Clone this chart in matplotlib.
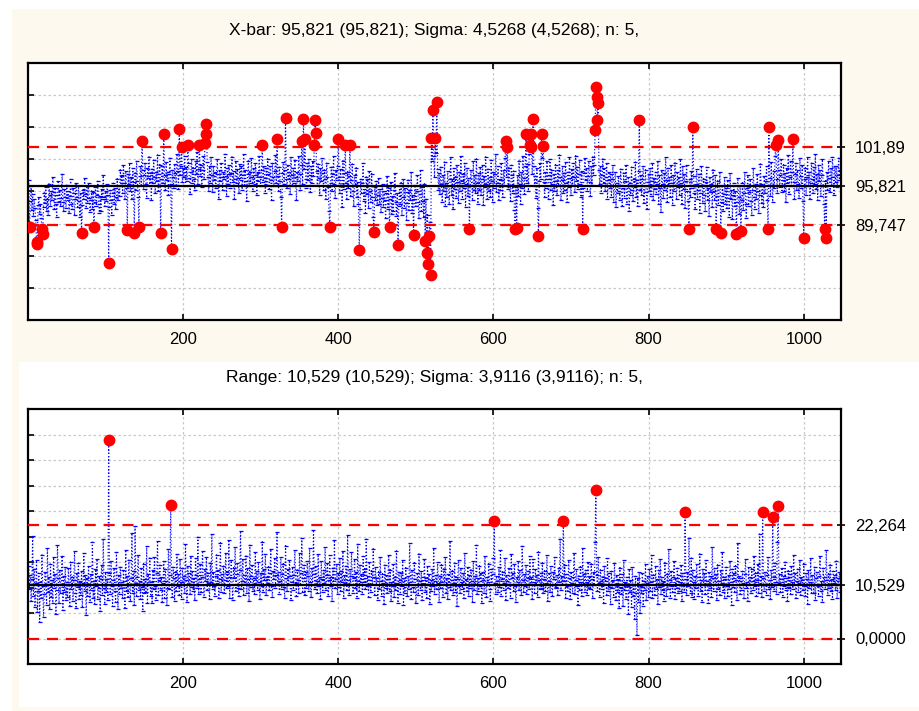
import numpy as np
import matplotlib
matplotlib.use('Agg')
import matplotlib.pyplot as plt
from matplotlib.patches import Rectangle

plt.rcParams['font.family'] = ['Liberation Sans', 'DejaVu Sans']

# ---------------- data ----------------
xbar = [
    96.8, 89.4, 93.5, 95.9, 92.1, 94.6, 91.2, 93.8, 92.4, 90.6,
    86.8, 87.1, 92.9, 94.1, 91.5, 93.0, 90.8, 89.1, 88.4, 92.6,
    94.8, 93.2, 95.7, 92.0, 93.9, 91.4, 96.2, 94.4, 92.8, 95.1,
    93.6, 97.3, 94.9, 92.3, 95.6, 93.1, 91.0, 94.5, 96.7, 93.4,
    95.2, 92.7, 94.0, 97.8, 93.3, 91.9, 95.4, 94.2, 92.5, 96.0,
    93.7, 95.0, 91.6, 94.3, 96.9, 93.0, 92.2, 95.5, 94.7, 91.3,
    93.9, 96.4, 94.1, 92.6, 95.8, 93.5, 91.1, 94.8, 88.5, 92.9,
    95.3, 93.8, 97.1, 94.6, 92.4, 95.9, 93.2, 96.3, 94.0, 91.8,
    93.6, 95.1, 92.3, 94.9, 89.5, 93.4, 95.7, 92.8, 94.5, 96.6,
    93.1, 91.7, 94.3, 92.0, 95.4, 93.9, 97.5, 94.2, 92.7, 95.0,
    93.5, 96.1, 94.4, 83.9, 92.6, 95.2, 93.7, 91.4, 94.8, 96.3,
    93.0, 95.5, 92.2, 94.1, 97.0, 93.6, 95.8, 94.3, 98.4, 96.0,
    97.5, 94.7, 99.1, 96.4, 93.8, 98.2, 95.6, 89.0, 97.7, 96.1,
    99.4, 95.0, 97.2, 93.9, 98.6, 96.5, 88.5, 97.9, 95.3, 99.8,
    96.7, 94.2, 89.5, 97.4, 99.0, 96.0, 102.8, 98.3, 95.4, 97.6,
    99.5, 96.2, 94.0, 98.7, 97.1, 100.4, 95.8, 97.9, 93.6, 98.5,
    96.4, 99.9, 97.3, 94.8, 98.1, 96.6, 100.7, 95.1, 97.8, 99.2,
    88.5, 97.0, 98.9, 96.3, 103.9, 97.5, 95.2, 99.6, 96.8, 98.0,
    94.5, 97.7, 100.2, 96.1, 86.0, 98.4, 97.2, 95.6, 99.3, 97.9,
    96.0, 100.9, 98.2, 95.4, 104.7, 97.6, 99.0, 102.0, 96.5, 98.6,
    97.3, 100.5, 95.9, 98.8, 96.7, 102.3, 99.4, 97.1, 94.6, 98.0,
    100.1, 96.4, 98.7, 97.0, 95.3, 99.7, 97.8, 101.2, 96.2, 98.5,
    102.3, 97.4, 99.2, 95.7, 98.3, 100.6, 96.9, 102.5, 103.9, 105.5,
    99.6, 97.2, 95.0, 98.9, 96.3, 100.3, 97.6, 94.9, 99.0, 96.8,
    98.1, 95.5, 97.7, 100.0, 96.0, 93.8, 98.4, 96.6, 99.5, 97.3,
    95.2, 98.0, 96.9, 100.8, 97.4, 94.3, 98.6, 96.1, 99.1, 97.8,
    95.6, 97.9, 100.4, 96.5, 98.2, 93.9, 97.0, 99.7, 96.3, 98.5,
    97.1, 94.7, 99.3, 96.8, 98.9, 95.3, 97.5, 100.9, 96.0, 98.3,
    96.6, 93.5, 97.8, 99.8, 95.9, 98.1, 96.4, 100.2, 97.2, 95.1,
    98.7, 96.2, 99.4, 97.6, 94.4, 98.0, 96.7, 100.6, 97.3, 95.8,
    98.4, 102.2, 96.5, 99.0, 97.1, 94.8, 98.6, 96.0, 100.1, 97.7,
    95.4, 98.9, 96.8, 93.7, 99.5, 97.2, 95.9, 98.2, 100.7, 96.3,
    103.1, 97.4, 95.1, 98.8, 96.6, 94.2, 89.4, 97.9, 99.6, 96.1,
    98.3, 106.4, 97.0, 95.5, 99.2, 96.9, 98.0, 94.6, 100.3, 97.5,
    95.8, 98.7, 96.4, 99.9, 97.2, 93.6, 98.1, 96.7, 100.5, 97.8,
    95.3, 99.1, 102.8, 96.2, 106.3, 98.5, 103.1, 97.0, 95.6, 99.4,
    96.8, 100.0, 97.6, 94.9, 98.9, 96.3, 99.7, 97.4, 102.2, 106.1,
    104.1, 98.2, 96.0, 99.3, 97.1, 94.5, 98.6, 96.6, 100.2, 97.9,
    95.2, 98.4, 96.9, 93.8, 99.5, 97.3, 95.7, 91.9, 89.4, 96.4,
    98.8, 95.0, 97.7, 100.6, 96.1, 94.0, 98.3, 96.8, 99.0, 103.1,
    97.2, 94.7, 98.5, 96.0, 92.6, 99.8, 95.4, 97.9, 102.2, 96.3,
    93.9, 98.1, 95.6, 97.4, 102.2, 94.3, 96.8, 99.3, 95.1, 92.7,
    97.6, 95.9, 98.7, 94.1, 96.5, 93.0, 85.9, 92.2, 97.0, 94.8,
    96.3, 99.4, 93.5, 95.8, 91.7, 97.3, 94.6, 96.9, 92.4, 98.2,
    95.0, 93.3, 97.8, 94.2, 91.0, 88.7, 95.7, 93.6, 96.6, 92.9,
    94.5, 97.1, 93.1, 95.4, 91.8, 94.0, 96.2, 92.6, 95.0, 93.7,
    90.9, 94.8, 97.4, 92.3, 95.6, 89.5, 93.9, 96.5, 91.5, 94.3,
    92.0, 95.2, 97.9, 93.4, 91.2, 94.7, 86.6, 92.8, 95.8, 93.0,
    96.4, 91.4, 94.1, 97.0, 92.5, 95.5, 93.2, 90.6, 94.9, 96.8,
    92.1, 95.3, 93.6, 98.1, 91.6, 94.4, 88.2, 93.8, 96.0, 92.7,
    95.1, 97.6, 93.3, 90.8, 94.6, 98.4, 92.0, 95.7, 93.5, 91.1,
    96.2, 87.3, 93.9, 85.5, 91.4, 83.7, 88.0, 90.3, 82.0, 103.4,
    99.8, 107.7, 100.6, 97.2, 103.4, 101.0, 109.0, 98.5, 95.3, 97.9,
    94.6, 98.8, 96.1, 93.4, 97.5, 95.0, 99.6, 92.7, 96.4, 94.1,
    98.2, 95.8, 93.0, 97.0, 100.3, 94.5, 96.9, 92.2, 98.6, 95.4,
    97.3, 94.0, 99.1, 96.5, 93.2, 98.0, 95.1, 100.6, 96.7, 93.9,
    97.8, 95.5, 99.4, 92.6, 96.2, 98.7, 94.3, 97.1, 89.2, 95.9,
    98.3, 96.0, 93.6, 99.7, 95.2, 97.6, 94.7, 100.1, 96.4, 93.1,
    97.9, 95.3, 98.8, 94.4, 96.9, 99.2, 92.9, 97.4, 95.7, 100.4,
    96.1, 93.8, 98.5, 95.0, 97.2, 94.2, 99.9, 96.6, 93.4, 98.1,
    95.6, 97.7, 100.8, 94.9, 96.3, 98.9, 93.7, 97.0, 95.2, 99.5,
    96.8, 94.1, 98.4, 95.9, 100.2, 102.9, 97.3, 102.0, 95.4, 98.7,
    96.0, 93.5, 99.1, 97.5, 94.8, 98.2, 92.1, 89.2, 95.7, 89.3,
    97.6, 94.3, 99.8, 96.2, 93.0, 98.0, 95.5, 100.5, 97.1, 94.6,
    98.9, 103.9, 96.4, 99.3, 95.1, 100.9, 102.3, 102.0, 103.9, 97.7,
    106.3, 99.0, 95.8, 97.4, 94.0, 98.6, 92.5, 88.0, 96.6, 99.5,
    97.0, 103.9, 100.2, 102.1, 96.5, 94.2, 98.1, 95.6, 99.7, 96.9,
    93.8, 97.5, 100.0, 95.3, 98.4, 96.1, 92.9, 97.8, 95.0, 99.2,
    96.7, 94.4, 98.3, 95.9, 100.7, 97.2, 93.6, 96.8, 99.0, 94.7,
    97.9, 95.2, 99.6, 96.3, 93.3, 98.0, 95.7, 100.3, 97.1, 94.5,
    98.5, 96.0, 99.4, 97.3, 94.9, 100.6, 96.6, 98.8, 95.4, 97.7,
    99.9, 96.2, 94.1, 98.2, 89.2, 95.6, 97.9, 100.2, 96.8, 98.6,
    95.1, 97.4, 99.7, 96.5, 94.3, 98.9, 96.0, 100.4, 97.6, 99.2,
    104.5, 111.2, 109.7, 106.1, 108.8, 98.3, 96.1, 99.0, 94.8, 97.5,
    100.1, 96.4, 98.7, 95.0, 97.2, 99.5, 93.9, 96.8, 98.1, 95.5,
    97.7, 94.2, 96.9, 99.1, 93.4, 95.8, 98.0, 92.6, 96.3, 94.7,
    97.4, 95.1, 93.7, 98.5, 96.0, 92.8, 95.6, 97.9, 94.0, 96.6,
    99.2, 93.1, 95.9, 97.3, 91.9, 96.4, 94.5, 98.8, 95.2, 93.5,
    97.0, 95.7, 99.6, 94.1, 96.8, 92.7, 98.2, 106.1, 95.3, 97.6,
    94.4, 96.9, 99.0, 93.2, 95.8, 98.4, 94.9, 92.3, 96.5, 97.8,
    95.0, 98.6, 94.3, 96.7, 99.4, 93.6, 97.1, 95.4, 98.0, 94.6,
    96.2, 99.8, 93.0, 97.5, 95.6, 91.8, 98.3, 96.1, 94.0, 97.9,
    95.3, 100.4, 96.8, 93.4, 98.7, 95.9, 97.2, 94.2, 99.1, 96.4,
    92.9, 97.6, 95.1, 99.5, 96.0, 93.8, 98.1, 95.7, 97.3, 94.5,
    100.0, 96.3, 93.1, 98.9, 95.4, 97.8, 92.4, 96.6, 99.2, 95.0,
    93.5, 89.2, 96.9, 94.1, 98.2, 95.6, 105.0, 97.4, 94.8, 92.2,
    96.1, 98.5, 93.9, 95.3, 97.7, 91.6, 94.7, 99.0, 95.9, 93.2,
    97.0, 94.4, 92.0, 96.5, 98.8, 93.7, 95.5, 91.2, 97.3, 94.9,
    96.2, 92.6, 98.4, 95.1, 93.6, 97.6, 89.2, 94.3, 96.7, 92.9,
    95.8, 98.1, 88.6, 93.4, 96.0, 91.9, 94.6, 97.2, 93.0, 95.5,
    92.4, 96.8, 94.0, 91.1, 97.9, 93.8, 95.2, 90.7, 94.5, 96.3,
    92.7, 95.0, 88.4, 93.3, 97.1, 94.2, 91.5, 95.9, 88.9, 93.6,
    96.4, 92.1, 94.8, 98.0, 93.1, 90.9, 95.6, 97.5, 92.8, 94.9,
    96.9, 93.5, 91.4, 95.3, 98.6, 94.1, 92.3, 96.1, 93.9, 97.7,
    95.0, 91.7, 94.4, 99.3, 96.2, 93.2, 95.8, 92.6, 97.4, 94.7,
    96.6, 98.9, 93.7, 89.2, 105.0, 97.1, 94.3, 99.6, 96.0, 93.4,
    98.2, 95.5, 100.5, 102.2, 97.0, 94.8, 103.0, 98.4, 95.7, 97.6,
    100.1, 94.9, 96.8, 99.2, 95.1, 97.9, 93.3, 98.6, 96.3, 100.7,
    94.6, 97.3, 99.8, 95.9, 98.0, 103.1, 96.5, 93.8, 97.7, 99.4,
    95.2, 98.3, 96.1, 94.0, 100.2, 97.4, 95.6, 99.1, 93.5, 87.7,
    96.9, 98.7, 94.5, 97.2, 100.3, 95.8, 98.1, 93.9, 96.4, 99.5,
    97.0, 94.7, 98.8, 96.2, 100.9, 95.4, 97.8, 93.6, 99.2, 96.6,
    98.4, 94.3, 97.5, 100.0, 95.9, 93.1, 89.2, 96.7, 87.7, 98.1,
    95.3, 99.7, 97.1, 94.9, 98.6, 96.0, 100.4, 97.3, 94.4, 98.9,
    96.5, 99.0, 95.7, 97.6, 100.2, 96.8, 98.3,
]

ranges = [
    14.2, 9.8, 12.5, 7.3, 11.6, 20.1, 8.4, 13.7, 6.2, 10.9,
    15.3, 5.1, 9.4, 12.8, 3.2, 11.1, 7.9, 16.4, 10.2, 4.3,
    8.7, 13.1, 10.5, 6.6, 17.8, 9.1, 12.0, 5.7, 14.6, 8.2,
    11.4, 7.0, 15.9, 10.0, 12.7, 4.8, 9.6, 18.3, 11.8, 6.9,
    13.4, 8.9, 10.7, 16.2, 5.5, 12.3, 9.2, 14.0, 7.6, 11.0,
    8.1, 13.9, 10.4, 6.4, 15.0, 9.7, 12.1, 7.4, 11.5, 17.1,
    9.0, 5.9, 12.9, 10.1, 14.8, 7.7, 11.2, 8.6, 13.3, 6.1,
    10.8, 16.7, 9.3, 12.4, 4.6, 11.9, 8.3, 14.3, 10.6, 7.2,
    12.6, 9.5, 18.9, 8.0, 11.3, 6.8, 13.6, 10.3, 15.6, 7.8,
    9.9, 12.2, 5.3, 11.7, 14.5, 8.5, 19.6, 10.0, 6.7, 13.0,
    9.1, 11.6, 7.5, 38.9, 12.8, 8.8, 15.2, 10.2, 6.3, 11.4,
    13.8, 9.4, 7.1, 16.9, 10.7, 5.8, 12.5, 8.7, 14.1, 9.9,
    11.0, 7.9, 13.5, 10.4, 6.0, 17.4, 9.3, 12.3, 8.2, 15.4,
    10.6, 7.3, 11.9, 20.7, 9.0, 13.2, 6.5, 22.0, 10.9, 8.4,
    12.1, 16.3, 9.6, 11.3, 7.7, 13.9, 10.1, 5.4, 14.7, 8.9,
    11.7, 9.2, 18.1, 7.0, 12.6, 10.5, 15.8, 8.3, 11.1, 6.9,
    13.4, 9.8, 16.0, 10.3, 7.6, 12.9, 19.2, 8.5, 11.5, 14.4,
    9.5, 12.0, 7.2, 10.8, 15.1, 8.0, 13.7, 11.2, 6.6, 10.0,
    17.6, 9.7, 12.4, 26.1, 10.6, 8.1, 14.0, 11.8, 7.4, 13.1,
    9.3, 16.5, 10.2, 12.7, 8.6, 15.5, 11.0, 7.8, 13.8, 10.4,
    12.2, 9.0, 18.6, 11.4, 7.1, 14.2, 10.7, 12.8, 8.8, 16.1,
    10.1, 13.3, 9.4, 11.9, 7.5, 15.7, 12.5, 10.0, 19.9, 8.7,
    11.6, 14.6, 9.1, 12.1, 17.2, 10.5, 8.2, 13.6, 11.3, 15.9,
    9.6, 12.9, 10.8, 7.7, 14.8, 11.1, 20.4, 9.8, 13.0, 10.3,
    8.4, 12.3, 16.4, 10.9, 13.5, 7.9, 11.7, 18.8, 9.2, 12.6,
    10.6, 14.3, 8.9, 11.5, 16.8, 9.9, 13.1, 10.2, 19.4, 8.0,
    12.0, 15.3, 10.4, 7.6, 13.9, 11.8, 17.9, 9.3, 12.7, 14.9,
    10.0, 8.3, 13.4, 21.1, 9.7, 11.2, 15.6, 8.6, 12.4, 10.7,
    16.2, 9.0, 13.8, 11.6, 7.3, 18.4, 10.1, 12.2, 14.5, 9.4,
    11.9, 8.8, 17.0, 10.5, 13.2, 9.6, 15.0, 11.0, 7.8, 12.9,
    10.3, 19.0, 9.1, 13.6, 11.4, 16.6, 8.5, 12.1, 10.8, 14.1,
    9.5, 12.8, 17.5, 10.2, 8.2, 13.3, 11.7, 15.8, 9.9, 12.5,
    20.8, 10.6, 13.0, 8.7, 11.3, 16.0, 9.8, 12.6, 14.7, 10.1,
    8.0, 18.2, 11.9, 9.3, 13.7, 10.4, 15.4, 12.2, 7.5, 11.1,
    14.0, 9.6, 12.4, 17.3, 10.9, 8.4, 13.5, 11.5, 9.0, 16.7,
    10.7, 12.9, 19.7, 9.2, 11.8, 14.4, 8.6, 13.1, 10.0, 15.2,
    12.3, 9.4, 17.8, 11.0, 8.1, 13.9, 10.5, 21.3, 12.7, 9.7,
    14.3, 11.2, 8.9, 16.5, 10.2, 12.0, 7.7, 15.1, 11.6, 9.1,
    13.4, 10.8, 18.0, 9.5, 12.5, 14.8, 8.3, 11.4, 16.3, 10.3,
    12.1, 7.4, 13.8, 10.6, 19.3, 9.9, 11.7, 14.6, 8.8, 12.8,
    10.1, 15.7, 9.3, 13.2, 11.1, 17.1, 8.0, 12.4, 10.9, 14.2,
    9.6, 20.2, 11.5, 8.5, 13.6, 10.4, 16.9, 12.2, 9.0, 11.8,
    15.5, 10.0, 13.0, 7.9, 18.5, 11.3, 9.4, 14.5, 10.7, 12.6,
    8.7, 16.1, 11.0, 13.7, 9.8, 19.5, 10.2, 12.3, 8.2, 15.0,
    11.4, 9.1, 13.3, 10.6, 17.6, 12.0, 8.6, 14.0, 10.5, 11.9,
    7.6, 13.1, 9.7, 15.9, 11.2, 8.4, 12.7, 10.8, 6.8, 14.4,
    10.0, 12.5, 8.9, 11.6, 16.4, 9.3, 13.5, 7.3, 11.0, 10.2,
    14.7, 8.1, 12.1, 9.5, 17.2, 10.9, 7.0, 13.0, 11.4, 8.7,
    12.8, 10.3, 15.3, 6.5, 11.8, 9.0, 13.9, 10.6, 8.3, 12.2,
    9.8, 18.7, 11.1, 7.8, 13.4, 10.1, 9.2, 14.9, 11.7, 6.9,
    10.4, 12.9, 8.5, 16.6, 11.3, 9.6, 13.2, 7.5, 12.0, 10.7,
    15.6, 9.1, 11.9, 8.0, 14.2, 10.5, 12.6, 6.7, 11.5, 9.4,
    13.6, 10.2, 17.7, 8.8, 11.2, 12.4, 9.7, 15.0, 10.9, 7.2,
    12.3, 9.9, 14.5, 11.0, 8.2, 13.7, 10.6, 16.0, 9.0, 11.8,
    7.7, 12.7, 10.1, 19.1, 9.5, 11.4, 13.3, 8.6, 10.8, 14.8,
    9.2, 12.1, 6.4, 11.6, 15.4, 10.3, 8.9, 13.8, 11.1, 9.8,
    12.9, 7.9, 16.8, 10.5, 11.7, 9.3, 14.1, 8.4, 12.5, 10.0,
    13.5, 11.3, 7.1, 15.2, 9.6, 12.2, 10.7, 18.3, 8.7, 11.9,
    9.4, 14.3, 10.2, 12.8, 6.9, 11.5, 13.0, 9.0, 16.2, 10.6,
    8.1, 12.0, 11.0, 14.7, 9.7, 7.4, 13.6, 10.4, 12.6, 15.7,
    23.0, 10.9, 8.8, 12.3, 11.2, 9.1, 14.0, 10.1, 17.4, 8.3,
    11.6, 13.1, 9.5, 10.8, 15.8, 7.6, 12.4, 11.3, 9.9, 13.9,
    10.5, 8.0, 16.5, 11.8, 12.9, 9.3, 14.6, 10.2, 7.2, 12.1,
    11.0, 15.1, 9.6, 13.4, 10.7, 8.5, 18.1, 11.5, 9.2, 12.7,
    10.3, 14.4, 8.7, 11.9, 13.2, 9.8, 16.1, 10.6, 12.0, 7.8,
    15.5, 11.1, 9.0, 13.7, 10.4, 12.5, 8.2, 17.0, 11.4, 9.7,
    12.8, 10.0, 14.9, 8.9, 11.7, 13.3, 9.4, 10.8, 16.4, 7.3,
    11.2, 12.9, 9.1, 14.2, 10.5, 8.4, 13.0, 11.6, 15.9, 9.9,
    10.1, 12.4, 8.6, 13.8, 11.0, 19.6, 9.5, 12.2, 10.7, 23.0,
    11.3, 14.5, 8.0, 12.6, 10.2, 9.3, 15.3, 11.8, 7.7, 13.1,
    10.9, 9.0, 12.0, 16.7, 8.8, 11.5, 13.6, 10.3, 6.6, 12.3,
    9.6, 14.1, 11.1, 8.3, 17.8, 10.6, 12.7, 9.2, 13.4, 11.0,
    8.5, 15.0, 10.0, 12.2, 9.7, 14.7, 11.6, 7.9, 13.0, 10.4,
    18.9, 29.1, 12.5, 9.3, 16.0, 10.8, 8.1, 13.5, 11.2, 9.8,
    12.1, 7.0, 14.3, 10.6, 11.9, 8.6, 15.7, 9.4, 12.8, 10.1,
    6.8, 13.2, 9.9, 11.4, 8.2, 14.8, 10.5, 7.5, 12.4, 9.1,
    11.7, 5.9, 13.9, 10.0, 8.7, 12.6, 6.3, 15.4, 9.5, 11.1,
    7.8, 12.0, 10.3, 4.9, 13.6, 9.2, 11.5, 6.1, 14.0, 8.4,
    10.7, 3.8, 12.3, 9.0, 0.6, 11.8, 7.2, 13.1, 5.0, 10.2,
    8.9, 12.9, 6.4, 11.3, 9.6, 14.6, 7.6, 10.9, 12.2, 8.1,
    13.7, 9.3, 11.0, 16.3, 7.9, 12.5, 10.4, 8.6, 14.2, 9.8,
    11.6, 6.7, 13.4, 10.1, 15.6, 8.8, 12.0, 9.5, 11.2, 7.4,
    14.9, 10.6, 8.3, 12.7, 9.7, 17.5, 11.4, 8.0, 13.3, 10.3,
    9.1, 12.1, 15.2, 7.7, 11.8, 10.0, 13.8, 8.9, 12.4, 9.4,
    11.0, 14.4, 7.3, 12.8, 10.5, 9.2, 24.8, 11.7, 8.5, 13.0,
    10.2, 19.8, 12.6, 9.0, 15.8, 8.2, 13.5, 11.1, 7.8, 12.3,
    9.9, 14.7, 10.7, 8.4, 12.0, 16.6, 9.3, 11.5, 7.1, 13.7,
    10.4, 12.9, 8.8, 15.3, 11.3, 9.6, 6.9, 13.1, 10.0, 12.2,
    8.1, 17.9, 11.9, 9.4, 13.8, 10.6, 12.7, 7.5, 14.5, 9.7,
    11.2, 8.6, 13.4, 10.9, 16.9, 9.1, 12.1, 7.9, 11.6, 14.0,
    10.3, 8.3, 12.5, 9.8, 15.1, 11.0, 6.5, 13.6, 10.1, 12.8,
    9.2, 14.3, 11.4, 7.6, 18.7, 10.5, 12.2, 8.7, 11.8, 9.5,
    13.2, 10.8, 8.0, 12.6, 15.5, 9.9, 11.1, 7.3, 14.1, 10.4,
    12.0, 8.9, 13.7, 11.3, 9.6, 16.2, 10.2, 12.9, 8.4, 11.5,
    14.6, 9.0, 20.5, 10.7, 12.3, 8.2, 24.8, 11.9, 9.4, 13.0,
    10.6, 8.6, 12.4, 15.9, 9.7, 11.4, 7.7, 13.5, 10.1, 23.8,
    12.1, 9.3, 14.8, 11.0, 8.8, 19.0, 25.9, 10.9, 12.7, 9.1,
    11.6, 13.9, 8.1, 12.2, 10.3, 15.0, 9.5, 11.8, 7.4, 13.3,
    10.0, 12.6, 8.7, 14.2, 11.1, 9.8, 16.4, 10.5, 12.9, 7.9,
    11.3, 13.6, 9.2, 10.8, 15.4, 8.5, 12.0, 11.5, 9.6, 14.7,
    10.2, 8.3, 12.8, 11.7, 6.8, 13.4, 9.9, 11.0, 15.7, 8.9,
    12.5, 10.6, 9.0, 14.0, 7.6, 11.9, 13.1, 10.3, 8.4, 12.3,
    16.1, 9.4, 11.2, 7.2, 13.8, 10.7, 12.1, 9.7, 17.3, 11.4,
    8.6, 12.7, 10.0, 14.5, 9.3, 11.6, 7.8, 13.2, 10.9, 12.4,
    9.5, 15.2, 8.0, 11.8, 10.4, 13.0, 9.1,
]

xbar_limits = [89.747, 95.821, 101.89]        # LCL, CL, UCL
range_limits = [0.0, 10.529, 22.264]
xbar_limit_labels = ['89,747', '95,821', '101,89']
range_limit_labels = ['0,0000', '10,529', '22,264']
xbar_title = 'X-bar: 95,821 (95,821); Sigma: 4,5268 (4,5268); n: 5,'
range_title = 'Range: 10,529 (10,529); Sigma: 3,9116 (3,9116); n: 5,'
x_ticks = [200, 400, 600, 800, 1000]
xbar_grid = [80, 85, 90, 95, 100, 105, 110]
range_grid = [0, 5, 10, 15, 20, 25, 30, 35, 40]

# ---------------- figure ----------------
W, H = 919, 711
fig = plt.figure(figsize=(W / 100, H / 100), dpi=100, facecolor='white')
CREAM = '#fdf9ef'

def px_rect(x0, y0, x1, y1, color):
    fig.patches.append(Rectangle((x0 / W, 1 - y1 / H), (x1 - x0) / W, (y1 - y0) / H,
                                 transform=fig.transFigure, facecolor=color,
                                 edgecolor='none', zorder=-10))

px_rect(12, 9, 919, 362, CREAM)
px_rect(12, 362, 919, 711, CREAM)
px_rect(19, 362, 919, 707, 'white')

def axes_px(x0, y0, x1, y1):
    return fig.add_axes([x0 / W, 1 - y1 / H, (x1 - x0) / W, (y1 - y0) / H])

def draw(ax, values, limits, limit_labels, ylim, grid_y):
    vals = np.asarray(values, dtype=float)
    x = np.arange(1, len(vals) + 1)
    lcl, cl, ucl = limits
    ax.set_facecolor('white')
    ax.set_xlim(0, 1048)
    ax.set_ylim(*ylim)
    ax.set_yticks(grid_y)
    ax.set_yticklabels([])
    ax.set_xticks(x_ticks)
    ax.set_xticklabels([str(t) for t in x_ticks], fontsize=12)
    ax.grid(True, color='#c8c8c8', ls=(0, (2, 2)), lw=0.9, zorder=0)
    ax.set_axisbelow(True)
    ax.tick_params(direction='in', length=4, width=1.2, top=True, right=True,
                   pad=9, colors='black')
    for s in ax.spines.values():
        s.set_linewidth(1.6)
    ax.plot(x, vals, color='#0000ff', lw=0.85, ls=(0, (1, 1.8)), zorder=2)
    ax.plot(x, vals, color='#0000ff', lw=0, marker='_', ms=3, mew=0.9,
            zorder=2)
    ax.axhline(cl, color='black', lw=1.6, zorder=3)
    ax.axhline(ucl, color='#ff0000', lw=1.6, ls=(0, (5, 3.5)), zorder=3)
    ax.axhline(lcl, color='#ff0000', lw=1.6, ls=(0, (5, 3.5)), zorder=3)
    out = (vals > ucl) | (vals < lcl)
    ax.plot(x[out], vals[out], ls='none', marker='o', ms=7.5, color='#ff0000',
            mec='#ff0000', zorder=4)
    tw = ax.twinx()
    tw.set_ylim(*ylim)
    tw.set_yticks(limits)
    tw.set_yticklabels(limit_labels, fontsize=12)
    tw.tick_params(direction='inout', length=6, width=1.2, pad=7)
    for s in tw.spines.values():
        s.set_visible(False)
    return ax

ax1 = axes_px(28, 63, 841, 320)
draw(ax1, xbar, xbar_limits, xbar_limit_labels, (75, 115), xbar_grid)
ax2 = axes_px(28, 409, 841, 664)
draw(ax2, ranges, range_limits, range_limit_labels, (-5, 45), range_grid)

fig.text(434.5 / W, 1 - 30 / H, xbar_title, ha='center', va='center', fontsize=12.5)
fig.text(434.5 / W, 1 - 378 / H, range_title, ha='center', va='center', fontsize=12.5)

fig.savefig('out.png', dpi=100, facecolor=fig.get_facecolor())
